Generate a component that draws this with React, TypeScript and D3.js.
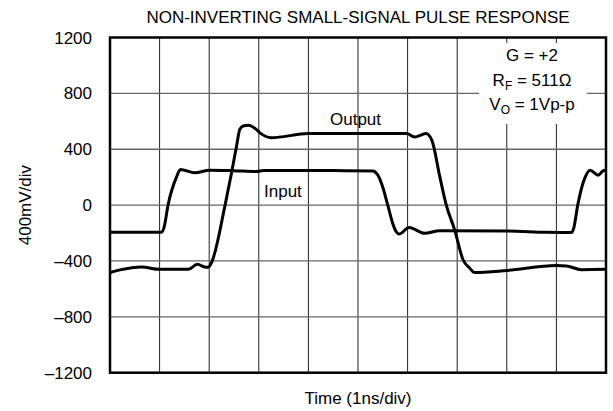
import React from "react";
import * as d3 from "d3";

const W = 613;
const H = 411;

const xTicks = [0, 1, 2, 3, 4, 5, 6, 7, 8, 9, 10];
const yTicks = [-1200, -800, -400, 0, 400, 800, 1200];
const yTickLabels = ["\u20131200", "\u2013800", "\u2013400", "0", "400", "800", "1200"];

// Input waveform (time in ns, mV)
const inputT = [0, 1.04, 1.09, 1.17, 1.34, 1.42, 1.71, 2.01, 2.5, 2.95, 3.1, 4.5, 5.3, 5.4, 5.48, 5.6, 5.7, 5.78, 5.83, 6.03, 6.34, 6.65, 8.0, 8.8, 9.3, 9.35, 9.43, 9.58, 9.68, 9.84, 9.94, 10.0];
const inputV = [-195, -195, -160, 0, 200, 255, 231, 250, 246, 240, 247, 247, 245, 215, 150, 0, -131, -195, -207, -160, -202, -183, -185, -195, -197, -165, 0, 200, 250, 214, 245, 250];

// Output waveform (time in ns, mV)
const outputT = [0, 0.2, 0.64, 1.0, 1.58, 1.76, 1.94, 2.0, 2.06, 2.32, 2.45, 2.55, 2.62, 2.7, 2.79, 2.92, 3.05, 3.25, 4.0, 5.98, 6.14, 6.37, 6.49, 6.65, 6.78, 6.95, 7.12, 7.25, 7.35, 8.0, 9.0, 9.2, 9.5, 10.0];
const outputV = [-483, -464, -443, -460, -460, -424, -445, -440, -400, 0, 230, 420, 545, 568, 571, 550, 510, 483, 512, 512, 488, 512, 464, 202, 0, -179, -393, -450, -483, -468, -433, -436, -462, -460];

const FONT = "'Liberation Sans', Arial, Helvetica, sans-serif";

export default function App() {
  const left = 110, right = 606, top = 37.5, bottom = 372.7;
  const x = d3.scaleLinear().domain([0, 10]).range([left, right]);
  const y = d3.scaleLinear().domain([-1200, 1200]).range([bottom, top]);

  const line = d3
    .line<number>()
    .x((_, i) => 0)
    .curve(d3.curveMonotoneX);

  const mk = (ts: number[], vs: number[]) =>
    d3
      .line<number>()
      .x((t) => x(t))
      .y((_, i) => y(vs[i]))
      .curve(d3.curveMonotoneX)(ts) || "";

  void line;

  const cx = (left + right) / 2;

  return (
    <svg
      width={W}
      height={H}
      style={{ position: "absolute", left: 0, top: 0, background: "#fff" }}
      fontFamily={FONT}
    >
      <rect x={0} y={0} width={W} height={H} fill="#fff" />
      <defs>
        <clipPath id="plot">
          <rect x={left} y={top} width={right - left} height={bottom - top} />
        </clipPath>
      </defs>
      {/* grid */}
      {xTicks.slice(1, -1).map((t) => (
        <line key={"vx" + t} x1={x(t)} x2={x(t)} y1={top} y2={bottom} stroke="#222" strokeWidth={1} />
      ))}
      {yTicks.slice(1, -1).map((v) => (
        <line key={"hy" + v} x1={left} x2={right} y1={y(v)} y2={y(v)} stroke="#666" strokeWidth={1.3} />
      ))}
      {/* annotation box */}
      <rect x={479} y={43} width={108} height={81} fill="#fff" />
      <text x={532} y={61} fontSize={17} textAnchor="middle" fill="#000">G = +2</text>
      <text x={532} y={85.5} fontSize={17} textAnchor="middle" fill="#000">
        R<tspan fontSize={12} dy={4}>F</tspan>
        <tspan dy={-4}> = 511Ω</tspan>
      </text>
      <text x={532} y={110} fontSize={17} textAnchor="middle" fill="#000">
        V<tspan fontSize={12} dy={4}>O</tspan>
        <tspan dy={-4}> = 1Vp-p</tspan>
      </text>
      {/* curves */}
      <g clipPath="url(#plot)">
        <path d={mk(inputT, inputV)} fill="none" stroke="#000" strokeWidth={3} strokeLinejoin="round" />
        <path d={mk(outputT, outputV)} fill="none" stroke="#000" strokeWidth={3} strokeLinejoin="round" />
      </g>
      {/* border */}
      <rect x={left} y={top} width={right - left} height={bottom - top} fill="none" stroke="#000" strokeWidth={2.5} />
      {/* labels */}
      <text x={330} y={125} fontSize={17} fill="#000">Output</text>
      <text x={264} y={197} fontSize={17} fill="#000">Input</text>
      {/* y tick labels */}
      {yTicks.map((v, i) => (
        <text key={"yl" + v} x={92} y={y(v)} dy="0.36em" fontSize={17} textAnchor="end" fill="#000">
          {yTickLabels[i]}
        </text>
      ))}
      {/* titles */}
      <text x={cx} y={22.5} fontSize={17} textAnchor="middle" fill="#000">
        NON-INVERTING SMALL-SIGNAL PULSE RESPONSE
      </text>
      <text x={cx} y={404} fontSize={17} textAnchor="middle" fill="#000">Time (1ns/div)</text>
      <text
        transform={`translate(31,${(top + bottom) / 2}) rotate(-90)`}
        fontSize={17}
        textAnchor="middle"
        fill="#000"
      >
        400mV/div
      </text>
    </svg>
  );
}
